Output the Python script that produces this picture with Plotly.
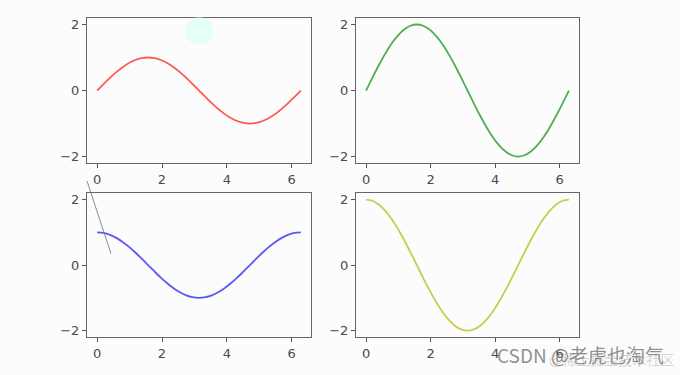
import plotly.graph_objects as go
from plotly.subplots import make_subplots

# ---- data ----
x = [0.0, 0.196, 0.393, 0.589, 0.785, 0.982, 1.178, 1.374, 1.571, 1.767, 1.963,
     2.160, 2.356, 2.553, 2.749, 2.945, 3.142, 3.338, 3.534, 3.731, 3.927, 4.123,
     4.320, 4.516, 4.712, 4.909, 5.105, 5.301, 5.498, 5.694, 5.890, 6.087, 6.283]

sin_y = [0.0, 0.195, 0.383, 0.556, 0.707, 0.831, 0.924, 0.981, 1.0, 0.981, 0.924,
         0.831, 0.707, 0.556, 0.383, 0.195, 0.0, -0.195, -0.383, -0.556, -0.707, -0.831,
         -0.924, -0.981, -1.0, -0.981, -0.924, -0.831, -0.707, -0.556, -0.383, -0.195, 0.0]

sin2_y = [0.0, 0.39, 0.765, 1.111, 1.414, 1.663, 1.848, 1.962, 2.0, 1.962, 1.848,
          1.663, 1.414, 1.111, 0.765, 0.39, 0.0, -0.39, -0.765, -1.111, -1.414, -1.663,
          -1.848, -1.962, -2.0, -1.962, -1.848, -1.663, -1.414, -1.111, -0.765, -0.39, 0.0]

cos_y = [1.0, 0.981, 0.924, 0.831, 0.707, 0.556, 0.383, 0.195, 0.0, -0.195, -0.383,
         -0.556, -0.707, -0.831, -0.924, -0.981, -1.0, -0.981, -0.924, -0.831, -0.707, -0.556,
         -0.383, -0.195, 0.0, 0.195, 0.383, 0.556, 0.707, 0.831, 0.924, 0.981, 1.0]

cos2_y = [2.0, 1.962, 1.848, 1.663, 1.414, 1.111, 0.765, 0.39, 0.0, -0.39, -0.765,
          -1.111, -1.414, -1.663, -1.848, -1.962, -2.0, -1.962, -1.848, -1.663, -1.414, -1.111,
          -0.765, -0.39, 0.0, 0.39, 0.765, 1.111, 1.414, 1.663, 1.848, 1.962, 2.0]

x_ticks = [0, 2, 4, 6]
y_ticks = [-2, 0, 2]
y_tick_labels = ["\u22122", "0", "2"]

series = [
    (sin_y, "rgba(255,70,70,0.9)", 1, 1),
    (sin2_y, "rgba(60,165,60,0.9)", 1, 2),
    (cos_y, "rgba(60,60,245,0.85)", 2, 1),
    (cos2_y, "rgba(195,200,60,0.9)", 2, 2),
]

fig = make_subplots(rows=2, cols=2)

for ys, col, r, c in series:
    fig.add_trace(go.Scatter(x=x, y=ys, mode="lines", line=dict(color=col, width=1.8, shape="spline"),
                             showlegend=False, hoverinfo="skip"), row=r, col=c)

W, H = 680, 375
xdom = {1: [87 / W, 311 / W], 2: [356 / W, 579 / W]}
ydom = {1: [1 - 163 / H, 1 - 17 / H], 2: [1 - 338 / H, 1 - 193 / H]}

axis_common = dict(showline=True, mirror=True, linecolor="#666666", linewidth=1,
                   ticks="outside", ticklen=4, tickcolor="#555555", showgrid=False,
                   zeroline=False, tickfont=dict(family="DejaVu Sans", size=13, color="#4a4a4a"))

for r in (1, 2):
    for c in (1, 2):
        idx = (r - 1) * 2 + c
        xa = "xaxis" if idx == 1 else f"xaxis{idx}"
        ya = "yaxis" if idx == 1 else f"yaxis{idx}"
        fig.layout[xa].update(domain=xdom[c], range=[-0.314, 6.597], tickvals=x_ticks, **axis_common)
        fig.layout[ya].update(domain=ydom[r], range=[-2.2, 2.2], tickvals=y_ticks,
                              ticktext=y_tick_labels, **axis_common)

# decorative artifacts from the screenshot
fig.add_shape(type="circle", xref="paper", yref="paper",
              x0=185 / W, x1=213 / W, y0=1 - 44 / H, y1=1 - 16 / H,
              fillcolor="rgba(205,255,240,0.5)", line=dict(width=0), layer="above")
fig.add_shape(type="line", xref="paper", yref="paper",
              x0=87 / W, y0=1 - 181 / H, x1=111 / W, y1=1 - 254 / H,
              line=dict(color="rgba(110,110,110,0.8)", width=1))

fig.add_annotation(text="@稀土掘金技术社区", xref="paper", yref="paper", x=676 / W, y=1 - 360 / H,
                   xanchor="right", yanchor="middle", showarrow=False,
                   font=dict(family="Noto Sans CJK SC", size=14, color="rgba(175,175,175,0.55)"))
fig.add_annotation(text="CSDN @老虎也淘气", xref="paper", yref="paper", x=666 / W, y=1 - 355 / H,
                   xanchor="right", yanchor="middle", showarrow=False,
                   font=dict(family="Noto Sans CJK SC", size=19, color="rgba(125,125,125,0.85)"))

fig.update_layout(width=W, height=H, margin=dict(l=0, r=0, t=0, b=0),
                  paper_bgcolor="#fcfcfc", plot_bgcolor="#fcfcfc")

fig.write_html("out.html")
